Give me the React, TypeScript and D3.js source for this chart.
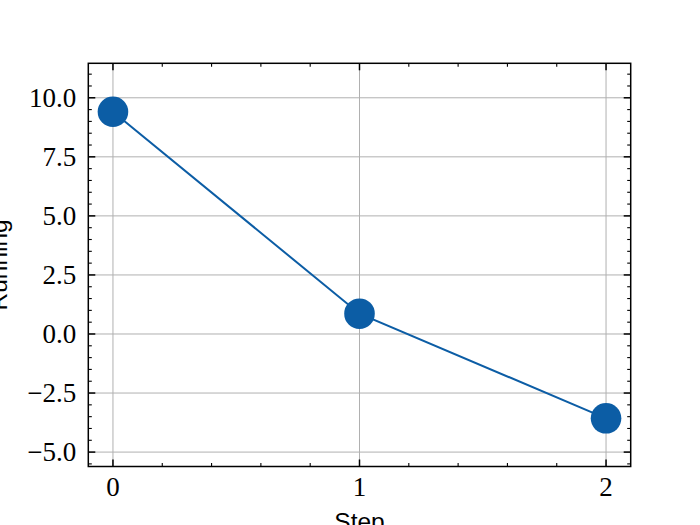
import { FC, useEffect, useRef } from 'react'
import * as d3 from 'd3'

const steps = [0, 1, 2]
const running = [9.41, 0.86, -3.57]

const xTicks = [0, 1, 2]
const yTicks = [-5, -2.5, 0, 2.5, 5, 7.5, 10]
const xMinor = [0.2, 0.4, 0.6, 0.8, 1.2, 1.4, 1.6, 1.8]
const yMinor = [-5.5, -4.5, -4, -3.5, -3, -2, -1.5, -1, -0.5, 0.5, 1, 1.5, 2, 3, 3.5, 4, 4.5, 5.5, 6, 6.5, 7, 8, 8.5, 9, 9.5, 10.5, 11]

const xLabel = 'Step'
const yLabel = 'Running'

const width = 700
const height = 525
const margin = { top: 63.3, right: 69.3, bottom: 58.5, left: 88.3 }

const serif = '"Liberation Serif", "DejaVu Serif", serif'
const sans = '"Liberation Sans", Arial, sans-serif'

const fmtY = (v: number) => (v < 0 ? '\u2212' : '') + Math.abs(v).toFixed(1)

export const RunningChart: FC = () => {
  const svgRef = useRef<SVGSVGElement>(null)

  useEffect(() => {
    if (!svgRef.current) return
    const svg = d3.select(svgRef.current)
    svg.selectAll('*').remove()

    const x = d3.scaleLinear()
      .domain([-0.1, 2.1])
      .range([margin.left, width - margin.right])

    const y = d3.scaleLinear()
      .domain([-5.61, 11.46])
      .range([height - margin.bottom, margin.top])

    const [x0, x1] = x.range()
    const [y0, y1] = y.range()

    // grid
    const grid = svg.append('g').attr('stroke', '#b0b0b0').attr('stroke-width', 1)
    grid.selectAll('line.gx').data(xTicks).join('line')
      .attr('x1', d => x(d)).attr('x2', d => x(d))
      .attr('y1', y0).attr('y2', y1)
    grid.selectAll('line.gy').data(yTicks).join('line')
      .attr('x1', x0).attr('x2', x1)
      .attr('y1', d => y(d)).attr('y2', d => y(d))

    // inward ticks on all four sides
    const ticks = svg.append('g').attr('stroke', 'black')
    const addX = (vals: number[], len: number, w: number) => {
      ticks.append('g').selectAll('line').data(vals).join('line')
        .attr('stroke-width', w)
        .attr('x1', d => x(d)).attr('x2', d => x(d))
        .attr('y1', y0).attr('y2', y0 - len)
      ticks.append('g').selectAll('line').data(vals).join('line')
        .attr('stroke-width', w)
        .attr('x1', d => x(d)).attr('x2', d => x(d))
        .attr('y1', y1).attr('y2', y1 + len)
    }
    const addY = (vals: number[], len: number, w: number) => {
      ticks.append('g').selectAll('line').data(vals).join('line')
        .attr('stroke-width', w)
        .attr('y1', d => y(d)).attr('y2', d => y(d))
        .attr('x1', x0).attr('x2', x0 + len)
      ticks.append('g').selectAll('line').data(vals).join('line')
        .attr('stroke-width', w)
        .attr('y1', d => y(d)).attr('y2', d => y(d))
        .attr('x1', x1).attr('x2', x1 - len)
    }
    addX(xTicks, 7, 1.5)
    addX(xMinor, 3.5, 1.1)
    addY(yTicks, 7, 1.5)
    addY(yMinor, 3.5, 1.1)

    // line + markers
    const pts = steps.map((s, i) => [s, running[i]] as [number, number])
    const line = d3.line<[number, number]>().x(d => x(d[0])).y(d => y(d[1]))
    svg.append('path')
      .attr('d', line(pts))
      .attr('fill', 'none')
      .attr('stroke', '#0C5DA5')
      .attr('stroke-width', 2)
    svg.append('g').selectAll('circle').data(pts).join('circle')
      .attr('cx', d => x(d[0]))
      .attr('cy', d => y(d[1]))
      .attr('r', 15.3)
      .attr('fill', '#0C5DA5')

    // spines
    svg.append('rect')
      .attr('x', x0).attr('y', y1)
      .attr('width', x1 - x0).attr('height', y0 - y1)
      .attr('fill', 'none').attr('stroke', 'black').attr('stroke-width', 1.5)

    // tick labels
    svg.append('g').selectAll('text').data(yTicks).join('text')
      .attr('x', x0 - 12)
      .attr('y', d => y(d) + 9)
      .attr('text-anchor', 'end')
      .attr('font-family', serif)
      .attr('font-size', 27)
      .text(d => fmtY(d))
    svg.append('g').selectAll('text').data(xTicks).join('text')
      .attr('x', d => x(d))
      .attr('y', 496)
      .attr('text-anchor', 'middle')
      .attr('font-family', serif)
      .attr('font-size', 27)
      .text(d => String(d))

    // axis labels
    svg.append('text')
      .attr('x', (x0 + x1) / 2)
      .attr('y', 529.5)
      .attr('text-anchor', 'middle')
      .attr('font-family', sans)
      .attr('font-size', 24.5)
      .text(xLabel)
    svg.append('text')
      .attr('transform', `translate(6.5,${(y0 + y1) / 2}) rotate(-90)`)
      .attr('text-anchor', 'middle')
      .attr('font-family', sans)
      .attr('font-size', 24.5)
      .text(yLabel)
  }, [])

  return (
    <svg
      ref={svgRef}
      width={width}
      height={height}
      style={{ position: 'absolute', left: 0, top: 0, background: 'white' }}
    />
  )
}

export default function App() {
  return <RunningChart />
}
